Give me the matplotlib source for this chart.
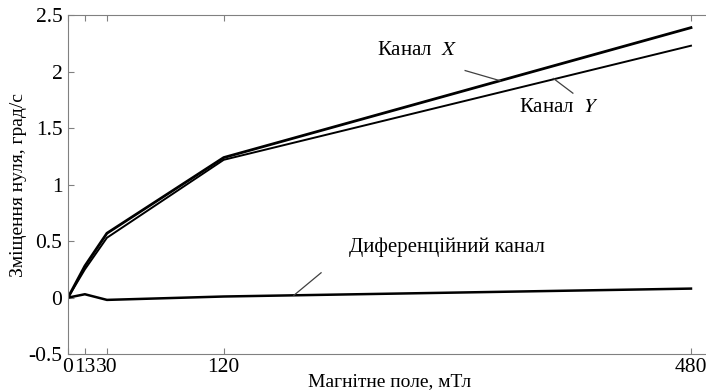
import numpy as np
import matplotlib
matplotlib.use('Agg')
from matplotlib import pyplot as plt

# магнітне поле, мТл
field = [0, 13, 30, 120, 480]
# зміщення нуля, град/с
chan_x = [0, 0.28, 0.57, 1.24, 2.39]
chan_y = [0, 0.25, 0.53, 1.22, 2.23]
chan_diff = [0, 0.03, -0.02, 0.01, 0.08]

xticks = [0, 13, 30, 120, 480]
yticks = [-0.5, 0, 0.5, 1, 1.5, 2, 2.5]

plt.rcParams['font.family'] = ['Liberation Serif', 'DejaVu Serif']
plt.rcParams['mathtext.fontset'] = 'stix'

fig = plt.figure(figsize=(7.06, 3.9), dpi=100)
ax = fig.add_axes([0.0963, 0.092, 0.91, 0.869])

ax.plot(field, chan_x, color='black', lw=2.0)
ax.plot(field, chan_y, color='black', lw=1.4)
ax.plot(field, chan_diff, color='black', lw=1.8)

ax.set_xlim(0, 495)
ax.set_ylim(-0.5, 2.5)
ax.set_xticks(xticks)
ax.set_xticklabels([str(v) for v in xticks])
ax.set_yticks(yticks)
ax.set_yticklabels(['-0.5', '0', '0.5', '1', '1.5', '2', '2.5'])
ax.tick_params(direction='in', top=True, right=False, labelsize=15.5,
               color='#808080', length=4, pad=2)
ax.tick_params(axis='y', pad=4)
ax.tick_params(axis='x', pad=3)
for s in ['left', 'bottom', 'top']:
    ax.spines[s].set_color('#808080')
ax.spines['right'].set_visible(False)

ax.set_xlabel('Магнітне поле, мТл', fontsize=14, labelpad=-3)
ax.set_ylabel('Зміщення нуля, град/с', fontsize=14, labelpad=1)

# підписи кривих
ax.text(269, 2.19, 'Канал  $X$', fontsize=15, ha='center', va='center')
ax.plot([306, 333], [2.01, 1.92], color='#404040', lw=0.9)
ax.text(378, 1.68, 'Канал  $Y$', fontsize=15, ha='center', va='center')
ax.plot([374, 389], [1.94, 1.81], color='#404040', lw=0.9)
ax.text(292, 0.45, 'Диференційний канал', fontsize=15, ha='center', va='center')
ax.plot([174, 195], [0.02, 0.22], color='#404040', lw=0.9)

fig.savefig('out.png', dpi=100)
